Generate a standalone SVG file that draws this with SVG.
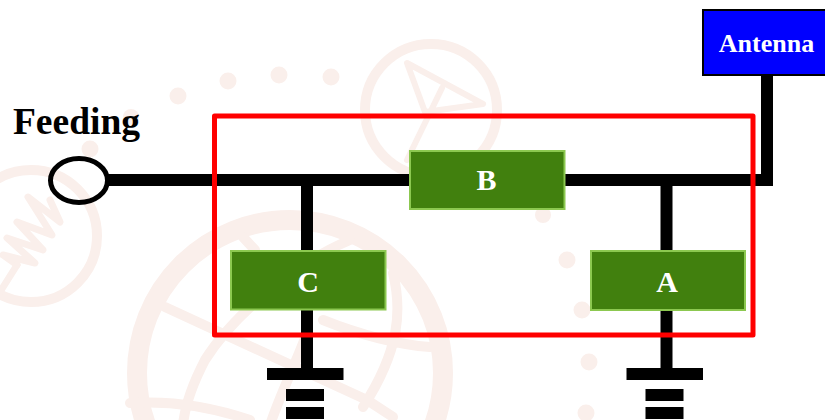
<svg xmlns="http://www.w3.org/2000/svg" width="825" height="420" viewBox="0 0 825 420">
<style>
.wm{fill:none;stroke:#faefeb;stroke-linejoin:round;stroke-linecap:round}
.dot{fill:#faefeb}
.wire{fill:none;stroke:#000;stroke-width:12}
.gnd{fill:#000}
.box{fill:#41800e;stroke:#8cc850;stroke-width:2}
.lbl{font-family:"Liberation Serif","Times New Roman",serif;font-weight:700;text-anchor:middle}
</style>
<rect width="825" height="420" fill="#fff"/>
<g id="watermark">
<circle class="wm" cx="31" cy="236" r="66" stroke-width="10"/>
<path class="wm" stroke-width="7" d="M17 265L3 255L35 263L7 238L43 250L17 222L52 235L28 197L60 222L50 200"/>
<path class="wm" stroke-width="7" d="M0 292L17 265"/>
<circle class="wm" cx="431" cy="110" r="66" stroke-width="10"/>
<path class="wm" stroke-width="6" d="M407 63L483 104L425 112ZM442 88L407 160"/>
<circle class="wm" cx="290" cy="373" r="153" stroke-width="20"/>
<path class="wm" stroke-width="10" d="M165 307L367 400L393 417M243 237L255 250M350 240C290 265 230 320 205 360C192 385 185 405 183 425M393 273C402 310 400 350 363 407M130 403C175 400 215 408 250 420M323 320C360 335 400 345 430 347M307 333C295 365 280 395 270 425"/>
<circle class="dot" cx="178" cy="96" r="8.500"/>
<circle class="dot" cx="228" cy="81" r="8.500"/>
<circle class="dot" cx="279" cy="75" r="8.500"/>
<circle class="dot" cx="331" cy="77" r="8.500"/>
<circle class="dot" cx="131" cy="117" r="8"/>
<circle class="dot" cx="90" cy="149" r="8.500"/>
<circle class="dot" cx="543" cy="215" r="8"/>
<circle class="dot" cx="567" cy="260" r="8.500"/>
<circle class="dot" cx="582" cy="310" r="8.500"/>
<circle class="dot" cx="589" cy="362" r="8.500"/>
<circle class="dot" cx="586" cy="413" r="8.500"/>
</g>
<g id="connectors">
<path class="wire" d="M108 180H410"/>
<path class="wire" d="M565 180H767V76"/>
<path class="wire" d="M307 175V251"/>
<path class="wire" d="M307 310V368"/>
<path class="wire" d="M666.500 175V251"/>
<path class="wire" d="M666.500 310V368"/>
</g>
<g id="ground-c">
<rect class="gnd" x="267" y="368" width="76.500" height="12"/>
<rect class="gnd" x="286" y="389" width="38" height="12"/>
<rect class="gnd" x="286" y="407" width="38" height="12"/>
</g>
<g id="ground-a">
<rect class="gnd" x="626.500" y="368" width="76.500" height="12"/>
<rect class="gnd" x="645.500" y="389" width="38" height="12"/>
<rect class="gnd" x="645.500" y="407" width="38" height="12"/>
</g>
<g id="feeding">
<ellipse cx="79" cy="180.500" rx="28.500" ry="22" fill="none" stroke="#000" stroke-width="5"/>
<text class="lbl" x="76.500" y="134" font-size="37.500" fill="#000">Feeding</text>
</g>
<g id="node-b">
<rect class="box" x="410" y="151" width="154.500" height="58"/>
<text class="lbl" x="486.500" y="190" font-size="30" fill="#fff">B</text>
</g>
<g id="node-c">
<rect class="box" x="231" y="251" width="154.500" height="58.500"/>
<text class="lbl" x="308" y="292" font-size="30" fill="#fff">C</text>
</g>
<g id="node-a">
<rect class="box" x="591" y="251" width="154" height="59"/>
<text class="lbl" x="667" y="292" font-size="30" fill="#fff">A</text>
</g>
<g id="antenna">
<rect x="703" y="10" width="130" height="65" fill="#0000ff" stroke="#000" stroke-width="2"/>
<text class="lbl" x="766.500" y="52" font-size="26" fill="#fff">Antenna</text>
</g>
<g id="module-outline">
<rect x="214.500" y="116" width="538.500" height="219" fill="none" stroke="#ff0000" stroke-width="5" stroke-linejoin="round"/>
</g>
</svg>
